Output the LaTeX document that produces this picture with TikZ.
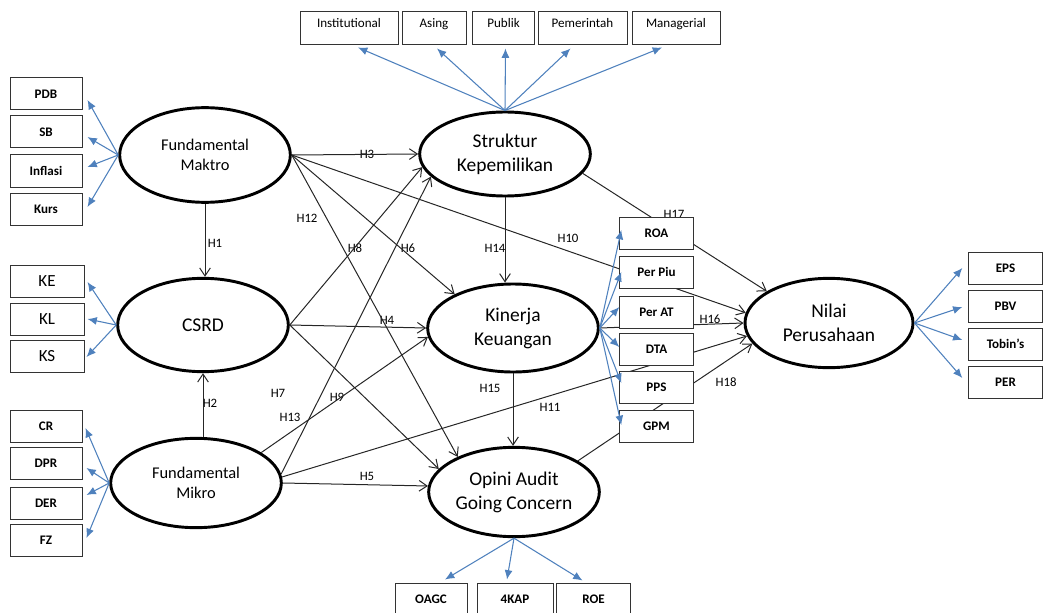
\documentclass[tikz,border=0pt]{standalone}
\usepackage{fontspec}
\setmainfont{Carlito}
\usetikzlibrary{arrows.meta,calc,shapes.geometric}
\definecolor{OfficeBlue}{RGB}{79,129,189}

\begin{document}
\begin{tikzpicture}[x=0.75pt,y=-0.75pt,
    latent/.style={ellipse,draw,line width=2.2pt,fill=white,minimum width=128pt,minimum height=67pt,inner sep=0pt,align=center,font=\fontsize{14.6}{18}\selectfont},
    fund/.style={font=\fontsize{12.3}{15}\selectfont},
    ind/.style={draw=black!80,line width=0.75pt,fill=white,minimum width=54pt,minimum height=24pt,inner sep=0pt,font=\bfseries\fontsize{9.8}{11}\selectfont},
    topind/.style={draw=black!80,line width=0.75pt,fill=white,inner xsep=0pt,inner ysep=0pt,text height=12pt,text depth=12.75pt,font=\fontsize{9.8}{11}\selectfont},
    hyp/.style={inner sep=1pt,font=\fontsize{9.6}{11}\selectfont},
    rel/.style={draw=black!85,line width=0.75pt,-{Straight Barb[length=6pt,width=8pt]}},
    loadarrow/.style={draw=OfficeBlue,line width=0.8pt,-{Latex[length=7pt,width=6pt]}}]
  \useasboundingbox (0,0) rectangle (1045,613);

  % constructs
  \node[latent,fund,minimum height=71pt] (fmak) at (205,155) {Fundamental\\Maktro};
  \node[latent,minimum height=70pt] (csrd) at (203,325) {CSRD};
  \node[latent,fund] (fmik) at (196,483) {Fundamental\\Mikro};
  \node[latent,minimum height=63pt] (sk) at (505,154) {Struktur\\Kepemilikan};
  \node[latent,minimum height=66pt] (kk) at (513,328) {Kinerja\\Keuangan};
  \node[latent] (oagc) at (514,492) {Opini Audit\\Going Concern};
  \node[latent,minimum width=126pt] (nv) at (829,323) {Nilai\\Perusahaan};

  % hypothesis labels
  \node[hyp] (h1) at (215,243) {H1};
  \node[hyp] (h2) at (210,403) {H2};
  \node[hyp] (h3) at (367,154) {H3};
  \node[hyp] (h4) at (387,320) {H4};
  \node[hyp] (h5) at (367,476) {H5};
  \node[hyp] (h6) at (408,248) {H6};
  \node[hyp] (h7) at (278,393) {H7};
  \node[hyp] (h8) at (355,248) {H8};
  \node[hyp] (h9) at (337,397) {H9};
  \node[hyp] (h10) at (568,238) {H10};
  \node[hyp] (h11) at (550,407) {H11};
  \node[hyp] (h12) at (307,218) {H12};
  \node[hyp] (h13) at (290,417) {H13};
  \node[hyp] (h14) at (495,248) {H14};
  \node[hyp] (h15) at (490,388) {H15};
  \node[hyp] (h16) at (710,319) {H16};
  \node[hyp] (h17) at (674,214) {H17};
  \node[hyp] (h18) at (726,382) {H18};

  % structural paths
  \draw[rel] (fmak.south) -- (fmak.south |- csrd.north);
  \draw[rel] (csrd.south |- fmik.north) -- (csrd.south);
  \draw[rel] (fmak.east) -- (sk.west);
  \draw[rel] (csrd.east) -- (kk.west);
  \draw[rel] (fmik.east) -- (oagc.176);
  \draw[rel] (fmak.east) -- (kk.150);
  \draw[rel] (fmik.25) -- (kk.186);
  \draw[rel] (csrd.east) -- (sk.189);
  \draw[rel] (csrd.east) -- (oagc.163);
  \draw[rel] (fmak.east) -- (nv.173);
  \draw[rel] (fmik.4) -- (nv.189);
  \draw[rel] (fmak.east) -- (oagc.148);
  \draw[rel] (fmik.6) -- (sk.197);
  \draw[rel] (sk.south) -- (sk.south |- kk.north);
  \draw[rel] (kk.south) -- (kk.south |- oagc.north);
  \draw[rel] (kk.east) -- (nv.west);
  \draw[rel] (sk.-14) -- (nv.153);
  \draw[rel] (oagc.26) -- (nv.195);

  % indicators
  \node[topind,minimum width=73.5pt] (inst) at (349,28.5) {Institutional};
  \node[topind,minimum width=48pt] (asing) at (434,28.5) {Asing};
  \node[topind,minimum width=47pt] (publik) at (503.5,28.5) {Publik};
  \node[topind,minimum width=66.75pt] (pemer) at (582.5,28.5) {Pemerintah};
  \node[topind,minimum width=66pt] (manag) at (676,28.5) {Managerial};

  \node[ind] (pdb) at (46,94) {PDB};
  \node[ind] (sb) at (46,132) {SB};
  \node[ind] (infl) at (46,171) {Inflasi};
  \node[ind] (kurs) at (46,209) {Kurs};

  \node[ind,minimum width=55.5pt,font=\fontsize{12.75}{14}\selectfont] (ke) at (47,281) {KE};
  \node[ind,minimum width=55.5pt,font=\fontsize{12.75}{14}\selectfont] (kl) at (47,319) {KL};
  \node[ind,minimum width=55.5pt,font=\fontsize{12.75}{14}\selectfont] (ks) at (47,356) {KS};

  \node[ind] (cr) at (46,426) {CR};
  \node[ind] (dpr) at (46,463) {DPR};
  \node[ind] (der) at (46,503) {DER};
  \node[ind] (fz) at (46,540) {FZ};

  \node[ind,minimum width=55pt] (roa) at (656.5,233) {ROA};
  \node[ind,minimum width=55pt] (perpiu) at (656.5,272) {Per Piu};
  \node[ind,minimum width=55pt] (perat) at (656.5,312) {Per AT};
  \node[ind,minimum width=55pt] (dta) at (656.5,349) {DTA};
  \node[ind,minimum width=55pt] (pps) at (656.5,387) {PPS};
  \node[ind,minimum width=55pt] (gpm) at (656.5,426) {GPM};

  \node[ind,minimum width=55pt] (eps) at (1005.5,268) {EPS};
  \node[ind,minimum width=55pt] (pbv) at (1005.5,306) {PBV};
  \node[ind,minimum width=55pt] (tobin) at (1005.5,344) {Tobin’s};
  \node[ind,minimum width=55pt] (per) at (1005.5,382) {PER};

  \node[ind] (oagcb) at (431,599) {OAGC};
  \node[ind,minimum width=57pt] (kap) at (515,599) {4KAP};
  \node[ind,minimum width=55pt] (roe) at (593.5,599) {ROE};

  % measurement arrows
  \draw[loadarrow] (sk.north) -- ($(inst.south)+(9,2)$);
  \draw[loadarrow] (sk.north) -- ($(asing.south)+(3,3)$);
  \draw[loadarrow] (sk.north) -- ($(publik.south)+(2,3)$);
  \draw[loadarrow] (sk.north) -- ($(pemer.south)+(-12,3)$);
  \draw[loadarrow] (sk.north) -- ($(manag.south)+(-14,2)$);

  \draw[loadarrow] (fmak.west) -- ($(pdb.east)+(5,6)$);
  \draw[loadarrow] (fmak.west) -- ($(sb.east)+(5,5)$);
  \draw[loadarrow] (fmak.west) -- ($(infl.east)+(5,-4)$);
  \draw[loadarrow] (fmak.west) -- ($(kurs.east)+(5,-2)$);

  \draw[loadarrow] (csrd.west) -- ($(ke.east)+(3,1)$);
  \draw[loadarrow] (csrd.west) -- ($(kl.east)+(3,0)$);
  \draw[loadarrow] (csrd.west) -- ($(ks.east)+(2,1)$);

  \draw[loadarrow] (fmik.west) -- ($(cr.east)+(3,2)$);
  \draw[loadarrow] (fmik.west) -- ($(dpr.east)+(4,5)$);
  \draw[loadarrow] (fmik.west) -- ($(der.east)+(4,-8)$);
  \draw[loadarrow] (fmik.west) -- ($(fz.east)+(4,-2)$);

  \draw[loadarrow] (kk.east) -- ($(roa.west)+(2,-3)$);
  \draw[loadarrow] (kk.east) -- ($(perpiu.west)+(2,0)$);
  \draw[loadarrow] (kk.east) -- ($(perat.west)+(0,-5)$);
  \draw[loadarrow] (kk.east) -- ($(dta.west)+(0,-2)$);
  \draw[loadarrow] (kk.east) -- ($(pps.west)+(2,-4)$);
  \draw[loadarrow] (kk.east) -- ($(gpm.west)+(2,-1)$);

  \draw[loadarrow] (nv.east) -- ($(eps.west)+(-6,0)$);
  \draw[loadarrow] (nv.east) -- ($(pbv.west)+(-6,1)$);
  \draw[loadarrow] (nv.east) -- ($(tobin.west)+(-6,-4)$);
  \draw[loadarrow] (nv.east) -- ($(per.west)+(-6,-4)$);

  \draw[loadarrow] (oagc.south) -- ($(oagcb.north)+(14,-3)$);
  \draw[loadarrow] (oagc.south) -- ($(kap.north)+(-8,-3)$);
  \draw[loadarrow] (oagc.south) -- ($(roe.north)+(-11,-2)$);
\end{tikzpicture}
\end{document}
